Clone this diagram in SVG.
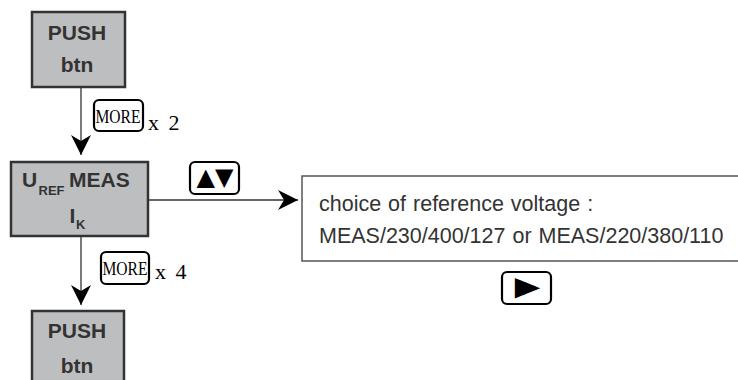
<svg xmlns="http://www.w3.org/2000/svg" width="738" height="380" viewBox="0 0 738 380">
<style>
.node{fill:#bdbec0;stroke:#333;stroke-width:2.5}
.lbl{font-family:"Liberation Sans",Arial,sans-serif;font-weight:bold;fill:#333;font-size:21px}
.sub{font-family:"Liberation Sans",Arial,sans-serif;font-weight:bold;fill:#333;font-size:13px}
.key{fill:#fff;stroke:#000;stroke-width:2.2}
.serif{font-family:"Liberation Serif","Times New Roman",serif;fill:#000}
.sym{font-family:"DejaVu Sans",sans-serif;fill:#000}
.conn{stroke:#333;stroke-width:1.3;fill:none}
.txt{font-family:"Liberation Sans",Arial,sans-serif;fill:#333;font-size:21.5px;word-spacing:1px}
</style>
<defs>
<marker id="ah" markerUnits="userSpaceOnUse" viewBox="0 0 20 20" markerWidth="20" markerHeight="20" refX="20" refY="10" orient="auto">
<path d="M0,0 L20,10 L0,20 L6,10 z" fill="#000"/>
</marker>
</defs>
<g id="connectors">
<line class="conn" x1="81" y1="87" x2="81" y2="155" marker-end="url(#ah)"/>
<line class="conn" x1="81" y1="237" x2="81" y2="305" marker-end="url(#ah)"/>
<line class="conn" x1="148" y1="200" x2="298" y2="200" marker-end="url(#ah)"/>
</g>
<g id="push1">
<rect class="node" x="32" y="12" width="93" height="75"/>
<text class="lbl" x="77" y="40" text-anchor="middle">PUSH</text>
<text class="lbl" x="77" y="72" text-anchor="middle">btn</text>
</g>
<g id="uref">
<rect class="node" x="11" y="162" width="137" height="74"/>
<text class="lbl" x="22" y="187">U</text>
<text class="sub" x="38.5" y="195">REF</text>
<text class="lbl" x="69" y="187">MEAS</text>
<text class="lbl" x="69.5" y="223">I</text>
<text class="sub" x="76" y="229">K</text>
</g>
<g id="push2">
<rect class="node" x="32" y="311" width="92" height="75"/>
<text class="lbl" x="77" y="338" text-anchor="middle">PUSH</text>
<text class="lbl" x="77" y="373" text-anchor="middle">btn</text>
</g>
<g id="more1">
<rect class="key" x="94" y="100" width="49" height="31" rx="5"/>
<text class="serif" x="95.5" y="123" font-size="18" textLength="45" lengthAdjust="spacingAndGlyphs">MORE</text>
<text class="serif" x="148" y="130" font-size="22" letter-spacing="2">x 2</text>
</g>
<g id="more2">
<rect class="key" x="101" y="252" width="48" height="32" rx="5"/>
<text class="serif" x="102.5" y="275" font-size="18" textLength="45" lengthAdjust="spacingAndGlyphs">MORE</text>
<text class="serif" x="155" y="279" font-size="22" letter-spacing="2">x 4</text>
</g>
<g id="updown">
<rect class="key" x="190" y="162" width="49" height="32" rx="5"/>
<text class="sym" x="215" y="185" font-size="24" text-anchor="middle">▲▼</text>
</g>
<g id="choice">
<rect x="302" y="176" width="440" height="85" fill="#fff" stroke="#555" stroke-width="1.5"/>
<text class="txt" x="319" y="211">choice of reference voltage :</text>
<text class="txt" x="319" y="243">MEAS/230/400/127 or MEAS/220/380/110</text>
</g>
<g id="right">
<rect class="key" x="502" y="272" width="49" height="32" rx="5"/>
<text class="sym" transform="translate(527.5,288) scale(1,1.25)" x="0" y="9" font-size="33" text-anchor="middle">►</text>
</g>
</svg>
